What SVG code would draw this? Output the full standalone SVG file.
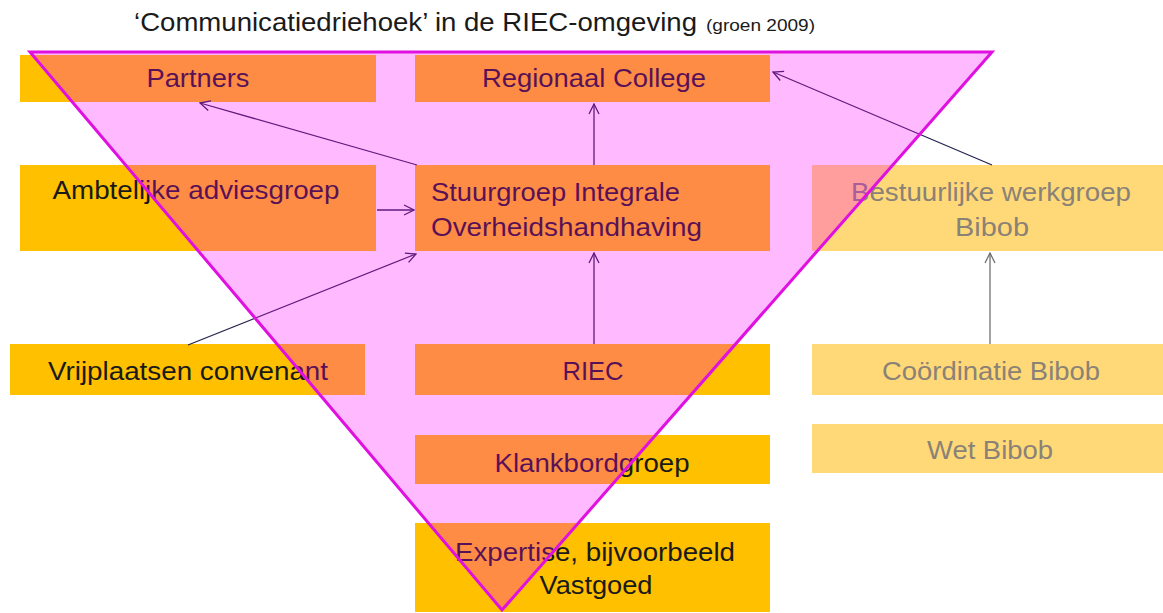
<svg xmlns="http://www.w3.org/2000/svg" width="1163" height="613" viewBox="0 0 1163 613">
<defs>
<style>
.box{fill:#FFC000}
.fade{fill:#FFD978}
.t{font-family:"Liberation Sans",Arial,sans-serif;font-size:25px;fill:#1a1a1a}
.tc{text-anchor:middle}
.tf{fill:#8a8277}
.c{stroke:#25254f;stroke-width:1.3;fill:none;marker-end:url(#ah)}
.cf{stroke:#707070;stroke-width:1.3;fill:none;marker-end:url(#ahf)}
</style>
<marker id="ah" viewBox="0 0 12 12" refX="11" refY="6" markerWidth="12" markerHeight="12" markerUnits="userSpaceOnUse" orient="auto">
<path d="M1,1 L11,6 L1,11" fill="none" stroke="#25254f" stroke-width="1.3"/>
</marker>
<marker id="ahf" viewBox="0 0 12 12" refX="11" refY="6" markerWidth="12" markerHeight="12" markerUnits="userSpaceOnUse" orient="auto">
<path d="M1,1 L11,6 L1,11" fill="none" stroke="#707070" stroke-width="1.3"/>
</marker>
</defs>
<rect width="1163" height="613" fill="#ffffff"/>
<g id="title">
<text x="134" y="31" font-family="Liberation Sans,Arial,sans-serif" font-size="25" fill="#1a1a1a" textLength="563" lengthAdjust="spacingAndGlyphs">‘Communicatiedriehoek’ in de RIEC-omgeving</text>
<text x="706" y="31" font-family="Liberation Sans,Arial,sans-serif" font-size="16" fill="#1a1a1a" textLength="109" lengthAdjust="spacingAndGlyphs">(groen 2009)</text>
</g>

<g id="partners"><rect class="box" x="20" y="55" width="356" height="47"/><text class="t tc" x="198" y="87" textLength="103" lengthAdjust="spacingAndGlyphs">Partners</text></g>
<g id="regionaal-college"><rect class="box" x="415" y="55" width="355" height="47"/><text class="t tc" x="594" y="87" textLength="224" lengthAdjust="spacingAndGlyphs">Regionaal College</text></g>
<g id="ambtelijke"><rect class="box" x="20" y="165" width="356" height="86"/><text class="t tc" x="196" y="199" textLength="287" lengthAdjust="spacingAndGlyphs">Ambtelijke adviesgroep</text></g>
<g id="stuurgroep"><rect class="box" x="415" y="165" width="355" height="86"/><text class="t" x="431" y="201" textLength="249" lengthAdjust="spacingAndGlyphs">Stuurgroep Integrale</text><text class="t" x="431" y="236" textLength="271" lengthAdjust="spacingAndGlyphs">Overheidshandhaving</text></g>
<g id="bestuurlijke"><rect class="fade" x="812" y="165" width="351" height="86"/><text class="t tc tf" x="991" y="201" textLength="280" lengthAdjust="spacingAndGlyphs">Bestuurlijke werkgroep</text><text class="t tc tf" x="992" y="236" textLength="74" lengthAdjust="spacingAndGlyphs">Bibob</text></g>
<g id="vrijplaatsen"><rect class="box" x="10" y="344" width="355" height="51"/><text class="t tc" x="188" y="380" textLength="280" lengthAdjust="spacingAndGlyphs">Vrijplaatsen convenant</text></g>
<g id="riec"><rect class="box" x="415" y="344" width="355" height="51"/><text class="t tc" x="593" y="380" textLength="61" lengthAdjust="spacingAndGlyphs">RIEC</text></g>
<g id="coordinatie"><rect class="fade" x="812" y="344" width="351" height="51"/><text class="t tc tf" x="991" y="380" textLength="218" lengthAdjust="spacingAndGlyphs">Coördinatie Bibob</text></g>
<g id="klankbordgroep"><rect class="box" x="415" y="435" width="355" height="49"/><text class="t tc" x="592" y="472" textLength="195" lengthAdjust="spacingAndGlyphs">Klankbordgroep</text></g>
<g id="wet-bibob"><rect class="fade" x="812" y="424" width="351" height="49"/><text class="t tc tf" x="990" y="459" textLength="126" lengthAdjust="spacingAndGlyphs">Wet Bibob</text></g>
<g id="expertise"><rect class="box" x="415" y="523" width="355" height="89"/><text class="t tc" x="595" y="561" textLength="280" lengthAdjust="spacingAndGlyphs">Expertise, bijvoorbeeld</text><text class="t tc" x="596" y="594" textLength="113" lengthAdjust="spacingAndGlyphs">Vastgoed</text></g>

<g id="connectors">
<line class="c" x1="417" y1="165" x2="200" y2="103"/>
<line class="c" x1="594" y1="165" x2="594" y2="104"/>
<line class="c" x1="992" y1="165" x2="773" y2="72"/>
<line class="c" x1="377" y1="210" x2="414" y2="210"/>
<line class="c" x1="188" y1="345" x2="416" y2="254"/>
<line class="c" x1="594" y1="344" x2="594" y2="253"/>
<line class="cf" x1="990" y1="344" x2="990" y2="253"/>
</g>

<g id="triangle">
<polygon points="30,52 992,52 502,610" fill="#FF00FF" fill-opacity="0.27" stroke="#E010E0" stroke-width="3"/>
</g>
</svg>
